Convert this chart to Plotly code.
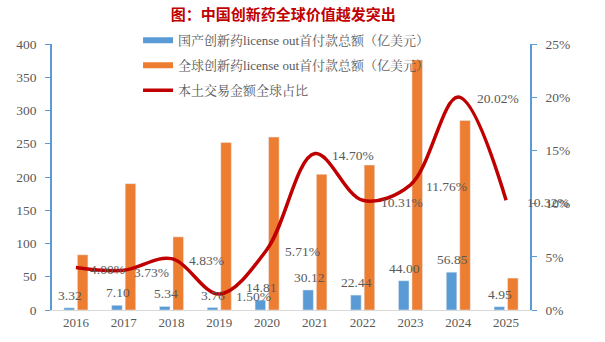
import plotly.graph_objects as go

years = ["2016", "2017", "2018", "2019", "2020", "2021", "2022", "2023", "2024", "2025"]
domestic = [3.32, 7.10, 5.34, 3.76, 14.81, 30.12, 22.44, 44.00, 56.85, 4.95]
global_vals = [83, 190, 110, 252, 260, 204, 218, 376, 285, 48]
share_pct = [4.00, 3.73, 4.83, 1.50, 5.71, 14.70, 10.31, 11.76, 20.02, 10.32]

name_dom = "国产创新药license out首付款总额（亿美元）"
name_glb = "全球创新药license out首付款总额（亿美元）"
name_share = "本土交易金额全球占比"
title_text = "图：中国创新药全球价值越发突出"

BLUE = "#5B9BD5"
ORANGE = "#ED7D31"
RED = "#C00000"
GRAY = "#595959"
SERIF = "Liberation Serif, Times New Roman, Noto Serif CJK SC, Noto Sans CJK SC, serif"

BARGAP = 0.435
BARGROUPGAP = 0.22
# horizontal pixel offsets of the share labels (label placement style)
LABEL_DX = [32, 28, 35, 34, 35, 38, 39, 36, 40, 42]

fig = go.Figure()
fig.add_trace(go.Bar(x=years, y=domestic, marker_color=BLUE, showlegend=False))
fig.add_trace(go.Bar(x=years, y=global_vals, marker_color=ORANGE, showlegend=False))
fig.add_trace(go.Scatter(x=years, y=share_pct, yaxis="y2", mode="lines", showlegend=False,
                         line=dict(color=RED, width=3.5, shape="spline", smoothing=1.0)))

# legend-only entries
for nm, col, w, g in [(name_dom, BLUE, 6, "a"), (name_glb, ORANGE, 6, "b"), (name_share, RED, 3.5, "c")]:
    fig.add_trace(go.Scatter(x=[years[0]], y=[None], mode="lines", name=nm, legendgroup=g,
                             line=dict(color=col, width=w)))

# data labels for domestic bars (above the blue bar)
for i, v in enumerate(domestic):
    fig.add_annotation(x=i, xref="x", y=v, yref="y", text=f"{v:.2f}", showarrow=False,
                       xanchor="center", yanchor="bottom", xshift=-6, yshift=3,
                       font=dict(family=SERIF, size=13.5, color=GRAY))

# data labels for share line (right of the point)
for i, v in enumerate(share_pct):
    fig.add_annotation(x=i, xref="x", y=v, yref="y2", text=f"{v:.2f}%", showarrow=False,
                       xanchor="center", yanchor="middle", xshift=LABEL_DX[i], yshift=-2,
                       font=dict(family=SERIF, size=13.5, color=GRAY))

fig.update_layout(
    width=605, height=342,
    margin=dict(l=52, r=75, t=44, b=32),
    paper_bgcolor="white", plot_bgcolor="white",
    barmode="group", bargap=BARGAP, bargroupgap=BARGROUPGAP,
    title=dict(text=title_text, x=0.468, xanchor="center", y=0.957, yanchor="middle",
               font=dict(family="Noto Sans CJK SC", size=15, color=RED, weight="bold")),
    legend=dict(x=0.180, y=1.07, xanchor="left", yanchor="top", bgcolor="rgba(0,0,0,0)",
                traceorder="grouped", tracegroupgap=5, itemwidth=30,
                font=dict(family=SERIF, size=13, color=GRAY)),
    xaxis=dict(type="category", categoryorder="array", categoryarray=years,
               range=[-0.5, len(years) - 0.5],
               showline=True, linecolor="#D9D9D9", linewidth=1,
               ticks="", showgrid=False,
               tickfont=dict(family=SERIF, size=13, color=GRAY)),
    yaxis=dict(range=[0, 400], dtick=50, showline=True, linecolor=BLUE, linewidth=1.5,
               ticks="outside", ticklen=5, tickcolor=BLUE, showgrid=False, zeroline=False,
               ticklabelstandoff=6,
               tickfont=dict(family=SERIF, size=13.5, color=GRAY)),
    yaxis2=dict(range=[0, 25], dtick=5, ticksuffix="%", overlaying="y", side="right",
                showline=True, linecolor=BLUE, linewidth=1.5, ticks="outside", ticklen=5,
                tickcolor=BLUE, showgrid=False, zeroline=False, ticklabelstandoff=6,
                tickfont=dict(family=SERIF, size=13.5, color=GRAY)),
)

fig.write_html("out.html")
